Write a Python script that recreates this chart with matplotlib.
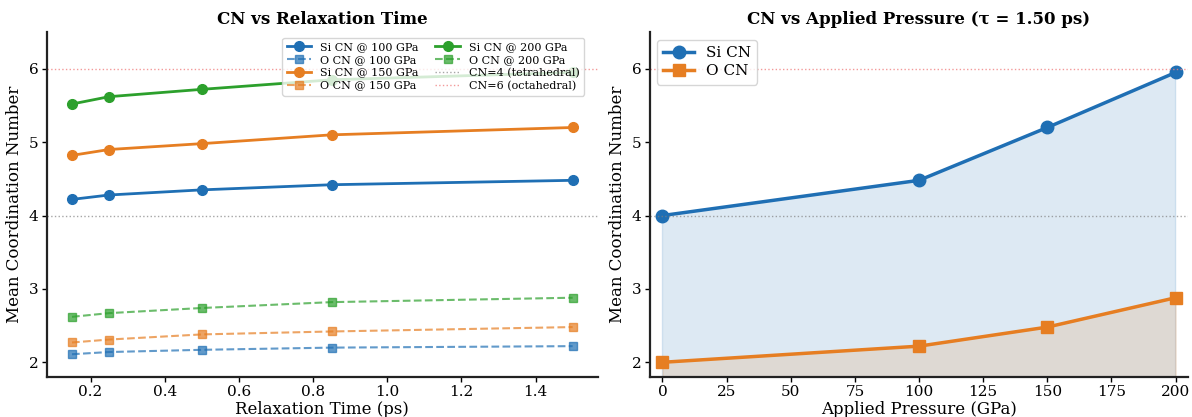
import matplotlib
matplotlib.use("Agg")
import matplotlib.pyplot as plt

# data
tau = [0.15, 0.25, 0.5, 0.85, 1.5]
si_100 = [4.22, 4.28, 4.35, 4.42, 4.48]
si_150 = [4.82, 4.90, 4.98, 5.10, 5.20]
si_200 = [5.52, 5.62, 5.72, 5.85, 5.95]
o_100 = [2.11, 2.14, 2.17, 2.20, 2.22]
o_150 = [2.27, 2.31, 2.38, 2.42, 2.48]
o_200 = [2.62, 2.67, 2.74, 2.82, 2.88]

pressure = [0, 100, 150, 200]
si_cn = [4.00, 4.48, 5.20, 5.95]
o_cn = [2.00, 2.22, 2.48, 2.88]

plt.rcParams["font.family"] = "DejaVu Serif"

colors = {100: "#1f6fb4", 150: "#e67e22", 200: "#2ca02c"}


def style_axes(ax):
    for s in ["top", "right"]:
        ax.spines[s].set_visible(False)
    for s in ["left", "bottom"]:
        ax.spines[s].set_linewidth(1.6)
        ax.spines[s].set_color("#222222")
    ax.tick_params(labelsize=11, length=3.5, width=1, pad=2.5)


fig = plt.figure(figsize=(11.92, 4.17), dpi=100)
ax1 = fig.add_axes([0.0394, 0.096, 0.462, 0.827])
ax2 = fig.add_axes([0.545, 0.096, 0.452, 0.827])

# left panel
si_sets = [(100, si_100), (150, si_150), (200, si_200)]
o_sets = [(100, o_100), (150, o_150), (200, o_200)]
for (p, si), (_, o) in zip(si_sets, o_sets):
    ax1.plot(tau, si, "-o", color=colors[p], lw=2, ms=7, label=f"Si CN @ {p} GPa")
    ax1.plot(tau, o, "--s", color=colors[p], lw=1.5, ms=6, alpha=0.7,
             label=f"O CN @ {p} GPa")
ax1.axhline(4, color="gray", ls=":", lw=1, alpha=0.7, label="CN=4 (tetrahedral)")
ax1.axhline(6, color="#f08080", ls=":", lw=1, alpha=0.8, label="CN=6 (octahedral)")
ax1.set_ylim(1.8, 6.5)
ax1.set_xlabel("Relaxation Time (ps)", fontsize=12, labelpad=1)
ax1.set_ylabel("Mean Coordination Number", fontsize=12)
ax1.set_title("CN vs Relaxation Time", fontsize=12, fontweight="bold")
ax1.legend(ncol=2, fontsize=8, loc="upper right", borderpad=0.4,
           labelspacing=0.25, columnspacing=1.5, handlelength=2.2,
           bbox_to_anchor=(0.985, 1.0))
style_axes(ax1)

# right panel
ax2.plot(pressure, si_cn, "-o", color=colors[100], lw=2.5, ms=9, label="Si CN")
ax2.fill_between(pressure, si_cn, 0, color=colors[100], alpha=0.15)
ax2.plot(pressure, o_cn, "-s", color=colors[150], lw=2.5, ms=9, label="O CN")
ax2.fill_between(pressure, o_cn, 0, color=colors[150], alpha=0.15)
ax2.axhline(4, color="gray", ls=":", lw=1, alpha=0.7)
ax2.axhline(6, color="#f08080", ls=":", lw=1, alpha=0.8)
ax2.set_xlim(-5, 205)
ax2.set_ylim(1.8, 6.5)
ax2.set_xlabel("Applied Pressure (GPa)", fontsize=12, labelpad=1)
ax2.set_ylabel("Mean Coordination Number", fontsize=12)
ax2.set_title("CN vs Applied Pressure (τ = 1.50 ps)", fontsize=12, fontweight="bold")
ax2.legend(fontsize=11, loc="upper left", labelspacing=0.3)
style_axes(ax2)

fig.savefig("out.png", dpi=100)
